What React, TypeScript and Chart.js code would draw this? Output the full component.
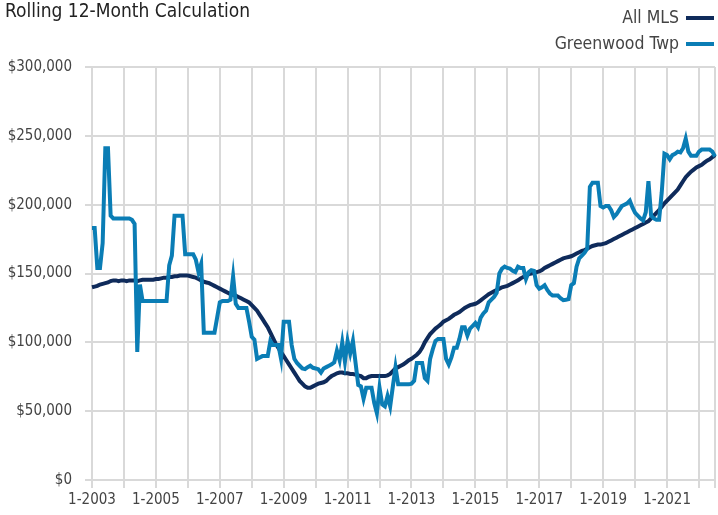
import React, { useEffect, useRef } from "react";
import { Chart, registerables } from "chart.js";

Chart.register(...registerables);

const TITLE = "Rolling 12-Month Calculation";
const SERIES_NAMES = ["All MLS", "Greenwood Twp"];
const COLORS = ["#0F2B5B", "#0A7DB5"];

const START_YEAR = 2003;
const MONTH_COUNT = 235; // 1-2003 .. 7-2022

const Y_TICKS = [0, 50000, 100000, 150000, 200000, 250000, 300000];

const allMls = [
  140000, 140500, 141000, 142000, 142500, 143000, 143500, 144500, 145000, 145000, 144500, 145000,
  145000, 144500, 145000, 145000, 145000, 144500, 145000, 145500, 145500, 145500, 145500, 145500,
  146000, 146000, 146500, 147000, 147000, 147500, 147500, 148000, 148000, 148500, 148500, 148500,
  148500, 148000, 147500, 147000, 146000, 145000, 144000, 143500, 143000, 142000, 141000, 140000,
  139000, 138000, 137000, 136000, 135000, 134500, 134000, 133000, 132000, 131000, 130000, 129000,
  127000, 125000, 123000, 120000, 117000, 114000, 111000, 107000, 103000, 99000, 96000, 93000,
  90000, 87000, 84000, 81000, 78000, 75000, 72000, 70000, 68000, 67000, 67000, 68000,
  69000, 70000, 70500, 71000, 72000, 74000, 75500, 76500, 77500, 78000, 78000, 77500,
  77500, 77000, 77000, 76500, 76000, 75500, 74000, 74000, 75000, 75500, 75500, 75500,
  75500, 75500, 75500, 76000, 77000, 79000, 81000, 82000, 83000, 84000, 85500, 87000,
  88000, 89500, 91000, 93000, 96000, 100000, 103000, 106000, 108000, 110000, 111500, 113000,
  115000, 116000, 117000, 118500, 120000, 121000, 122000, 123500, 125000, 126000, 127000, 127500,
  128000, 129000, 130500, 132000, 133500, 135000, 136000, 137000, 138000, 139000, 140000, 140500,
  141000, 142000, 143000, 144000, 145000, 146500, 147500, 148500, 149500, 150000, 150500, 151000,
  151500, 152500, 154000, 155000, 156000, 157000, 158000, 159000, 160000, 161000, 161500, 162000,
  162500, 163500, 164500, 165500, 166500, 167000, 168000, 169000, 170000, 170500, 171000, 171000,
  171500, 172000, 173000, 174000, 175000, 176000, 177000, 178000, 179000, 180000, 181000, 182000,
  183000, 184000, 185000, 186000, 187000, 188000, 190000, 192000, 194000, 196000, 198500, 201000,
  203000, 205000, 207000, 209000, 211000, 214000, 217000, 220000, 222000, 224000, 225500, 227000,
  228000, 229000, 230500, 232000, 233000, 234500, 236000,
];

const greenwoodTwp = [
  183000, 183000, 154000, 154000, 172000, 241000, 241000, 192000, 190000, 190000, 190000, 190000,
  190000, 190000, 190000, 189000, 186000, 93000, 142000, 130000, 130000, 130000, 130000, 130000,
  130000, 130000, 130000, 130000, 130000, 156000, 163000, 192000, 192000, 192000, 192000, 164000,
  164000, 164000, 164000, 160000, 151000, 157000, 107000, 107000, 107000, 107000, 107000, 118000,
  129000, 130000, 130000, 130000, 131000, 148000, 128000, 125000, 125000, 125000, 125000, 115000,
  104000, 102000, 88000, 89000, 90000, 90000, 90000, 101000, 98000, 98000, 98000, 88000,
  115000, 115000, 115000, 98000, 88000, 85000, 83000, 81000, 80500, 82000, 83000, 81500,
  81000, 80500, 78000, 81000, 82000, 83000, 84000, 85500, 94000, 87000, 100000, 86000,
  101000, 92000, 101000, 85000, 69000, 68000, 59000, 67000, 67000, 67000, 56000, 48500,
  67000, 55000, 53500, 61000, 53500, 68000, 82000, 69500, 69500, 69500, 69500, 69500,
  70000, 72000, 85000, 85000, 85000, 74000, 72000, 88000, 95000, 101000, 102500, 102500,
  102500, 88000, 84000, 89000, 96000, 96000, 102500, 111000, 111000, 105000, 110000, 112000,
  114000, 111000, 118000, 121000, 123000, 129000, 131000, 133000, 136000, 150000, 153500, 155000,
  154000, 153500, 152000, 151000, 155000, 154000, 154000, 146000, 151000, 152500, 152000, 141500,
  139000, 140000, 141500, 138000, 135500, 134000, 134000, 134000, 132000, 130700, 131000, 131400,
  141500, 143000, 155000, 161000, 163000, 165000, 168000, 213000, 216000, 216000, 216000, 199000,
  198000, 199000, 199000, 196000, 191000, 193000, 196000, 199000, 200000, 201000, 203000, 198000,
  194000, 192000, 190000, 188600, 194500, 217000, 192000, 190000, 189000, 189000, 209000, 237000,
  236000, 233000, 236000, 237000, 238500, 238000, 241000, 248000, 238500, 235500, 235500, 235500,
  238600, 240000, 240000, 240000, 240000, 238600, 235000,
];

const monthLabels: string[] = [];
for (let i = 0; i < MONTH_COUNT; i++) {
  monthLabels.push(`${(i % 12) + 1}-${START_YEAR + Math.floor(i / 12)}`);
}

const FONT = "'Liberation Sans Narrow', 'DejaVu Sans Condensed', 'Roboto', sans-serif";
const GRID = "#d9d9d9";
const TEXT = "#444444";

const overlayPlugin = {
  id: "overlay",
  afterDraw(chart: any) {
    const ctx = chart.ctx;
    ctx.save();
    ctx.fillStyle = "#222222";
    ctx.font = `19px ${FONT}`;
    ctx.textAlign = "left";
    ctx.textBaseline = "middle";
    ctx.fillText(TITLE, 5, 12);
    ctx.font = `17.5px ${FONT}`;
    ctx.textAlign = "right";
    const rows = [18, 44];
    SERIES_NAMES.forEach((name, i) => {
      ctx.fillStyle = TEXT;
      ctx.fillText(name, 679, rows[i]);
      ctx.strokeStyle = COLORS[i];
      ctx.lineWidth = 4;
      ctx.beginPath();
      ctx.moveTo(686, rows[i]);
      ctx.lineTo(714, rows[i]);
      ctx.stroke();
    });
    ctx.restore();
  },
};

export default function App() {
  const ref = useRef<HTMLCanvasElement | null>(null);
  useEffect(() => {
    if (!ref.current) return;
    const chart = new Chart(ref.current, {
      type: "line",
      data: {
        labels: monthLabels,
        datasets: [
          {
            label: SERIES_NAMES[1],
            data: greenwoodTwp,
            borderColor: COLORS[1],
            backgroundColor: COLORS[1],
            borderWidth: 4,
            pointRadius: 0,
            tension: 0,
          },
          {
            label: SERIES_NAMES[0],
            data: allMls,
            borderColor: COLORS[0],
            backgroundColor: COLORS[0],
            borderWidth: 4,
            pointRadius: 0,
            tension: 0,
          },
        ],
      },
      options: {
        responsive: false,
        animation: false,
        layout: { padding: { top: 67, right: 2, left: 0, bottom: 0 } },
        plugins: { legend: { display: false }, title: { display: false }, tooltip: { enabled: false } },
        scales: {
          x: {
            type: "category",
            offset: false,
            border: { display: false },
            grid: {
              lineWidth: 2,
              tickLength: 8,
              color: (c: any) => (c.index % 12 === 0 || c.index === MONTH_COUNT - 1 ? GRID : "rgba(0,0,0,0)"),
            },
            ticks: {
              autoSkip: false,
              maxRotation: 0,
              minRotation: 0,
              padding: 3,
              color: TEXT,
              font: { family: FONT, size: 15 },
              callback: (_v: any, i: number) => (i % 24 === 0 ? monthLabels[i] : ""),
            },
            afterFit: (s: any) => {
              s.height = 35;
            },
          },
          y: {
            min: 0,
            max: 300000,
            border: { display: false },
            grid: { lineWidth: 2, color: GRID, tickLength: 7 },
            afterBuildTicks: (s: any) => {
              s.ticks = Y_TICKS.map((v) => ({ value: v }));
            },
            ticks: {
              padding: 13,
              color: TEXT,
              font: { family: FONT, size: 15 },
              callback: (v: any) => "$" + Number(v).toLocaleString("en-US"),
            },
            afterFit: (s: any) => {
              s.width = 92;
            },
          },
        },
      },
      plugins: [overlayPlugin],
    });
    return () => chart.destroy();
  }, []);
  return (
    <div style={{ position: "fixed", left: 0, top: 0, width: 718, height: 515, background: "#fff" }}>
      <canvas ref={ref} width={718} height={515} style={{ display: "block" }} />
    </div>
  );
}
